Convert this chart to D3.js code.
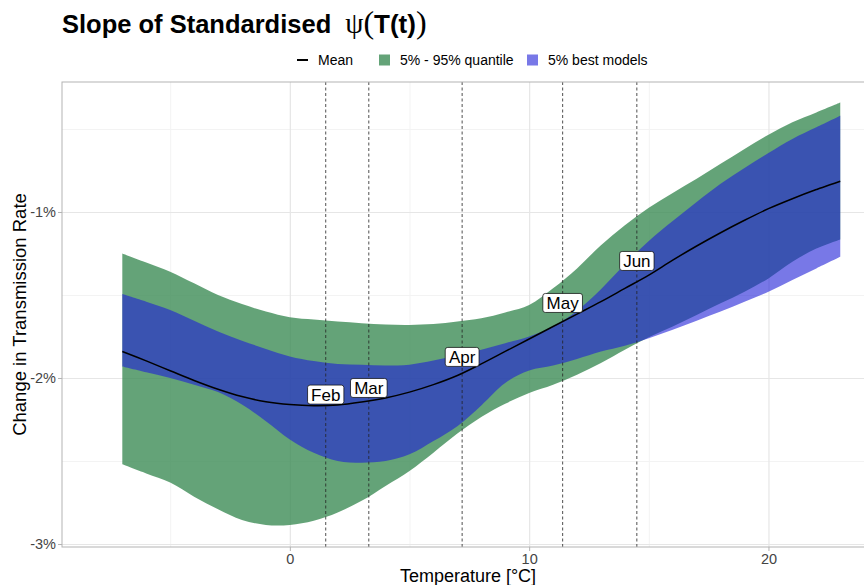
<!DOCTYPE html>
<html>
<head>
<meta charset="utf-8">
<script src="https://cdn.jsdelivr.net/npm/d3@7"></script>
<style>
  body { margin: 0; background: #fff; }
  text { font-family: "Liberation Sans", Arial, sans-serif; }
</style>
</head>
<body>
<div id="chart"></div>
<script>
// values (percent per unit)
var temps    = [-7,-6,-5,-4,-3,-2,-1,0,1,2,3,4,5,6,7,8,9,10,11,12,13,14,15,16,17,18,19,20,21,22,23];
var meanVals = [-1.84,-1.897,-1.956,-2.015,-2.068,-2.112,-2.143,-2.16,-2.167,-2.163,-2.145,-2.12,-2.085,-2.04,-1.985,-1.915,-1.84,-1.765,-1.69,-1.615,-1.54,-1.46,-1.38,-1.29,-1.205,-1.125,-1.05,-0.98,-0.92,-0.865,-0.815];
var q95      = [-1.25,-1.305,-1.36,-1.43,-1.50,-1.555,-1.60,-1.634,-1.648,-1.66,-1.67,-1.678,-1.68,-1.675,-1.66,-1.64,-1.605,-1.56,-1.46,-1.34,-1.20,-1.08,-0.975,-0.885,-0.80,-0.71,-0.62,-0.535,-0.46,-0.40,-0.34];
var q05      = [-2.52,-2.575,-2.63,-2.715,-2.79,-2.855,-2.885,-2.885,-2.86,-2.81,-2.74,-2.65,-2.56,-2.45,-2.335,-2.235,-2.155,-2.09,-2.04,-1.98,-1.91,-1.83,-1.755,-1.69,-1.62,-1.55,-1.48,-1.40,-1.30,-1.22,-1.165];
var bestHi   = [-1.494,-1.54,-1.59,-1.655,-1.72,-1.775,-1.825,-1.87,-1.898,-1.915,-1.92,-1.925,-1.92,-1.895,-1.865,-1.83,-1.79,-1.75,-1.69,-1.595,-1.465,-1.315,-1.175,-1.055,-0.94,-0.83,-0.735,-0.645,-0.56,-0.49,-0.42];
var bestLo   = [-1.93,-1.965,-2.00,-2.04,-2.085,-2.16,-2.26,-2.37,-2.45,-2.50,-2.51,-2.50,-2.46,-2.38,-2.29,-2.165,-2.03,-1.955,-1.925,-1.885,-1.84,-1.805,-1.76,-1.71,-1.655,-1.60,-1.54,-1.48,-1.41,-1.34,-1.27];

var months    = ["Feb", "Mar", "Apr", "May", "Jun"];
var monthTemp = [1.5, 3.3, 7.2, 11.4, 14.5];
var labelVals = [-2.10, -2.06, -1.873, -1.548, -1.295];

var xTicks = [0, 10, 20], xMinor = [-5, 5, 15];
var yTicks = [-3, -2, -1], yMinor = [-2.5, -1.5, -0.5];

var W = 864, H = 585;
var margin = { top: 82, right: -10, bottom: 38, left: 62 },
    width = W - margin.left - margin.right,
    height = H - margin.top - margin.bottom;

var svg = d3.select("#chart").append("svg")
    .attr("width", W).attr("height", H);

var g = svg.append("g")
    .attr("transform", "translate(" + margin.left + "," + margin.top + ")");

var x = d3.scaleLinear().domain([-9.52, 24.41]).range([0, width]);
var y = d3.scaleLinear().domain([-3.018, -0.217]).range([height, 0]);

// grid
g.append("g").attr("class", "grid-minor")
    .attr("transform", "translate(0," + height + ")")
    .call(d3.axisBottom(x).tickValues(xMinor).tickSize(-height).tickFormat(""));
g.append("g").attr("class", "grid-minor")
    .call(d3.axisLeft(y).tickValues(yMinor).tickSize(-width).tickFormat(""));
g.append("g").attr("class", "grid-major")
    .attr("transform", "translate(0," + height + ")")
    .call(d3.axisBottom(x).tickValues(xTicks).tickSize(-height).tickFormat(""));
g.append("g").attr("class", "grid-major")
    .call(d3.axisLeft(y).tickValues(yTicks).tickSize(-width).tickFormat(""));
g.selectAll(".grid-minor line").attr("stroke", "#f3f3f3").attr("stroke-width", 1);
g.selectAll(".grid-major line").attr("stroke", "#e6e6e6").attr("stroke-width", 1.2);
g.selectAll(".grid-minor .domain, .grid-major .domain").remove();

var data = temps.map(function(t, i) {
    return { t: t, mean: meanVals[i], lo: q05[i], hi: q95[i], blo: bestLo[i], bhi: bestHi[i] };
});

var curve = d3.curveCatmullRom.alpha(0.5);

// 5% - 95% quantile band
g.append("path").datum(data)
    .attr("fill", "rgb(61,140,86)").attr("fill-opacity", 0.8)
    .attr("d", d3.area().curve(curve)
        .x(function(d) { return x(d.t); })
        .y0(function(d) { return y(d.lo); })
        .y1(function(d) { return y(d.hi); }));

// 5% best models band
g.append("path").datum(data)
    .attr("fill", "rgb(30,30,215)").attr("fill-opacity", 0.6)
    .attr("d", d3.area().curve(curve)
        .x(function(d) { return x(d.t); })
        .y0(function(d) { return y(d.blo); })
        .y1(function(d) { return y(d.bhi); }));

// month lines
g.selectAll(".mline").data(monthTemp).enter().append("line")
    .attr("class", "mline")
    .attr("x1", function(d) { return x(d); }).attr("x2", function(d) { return x(d); })
    .attr("y1", 0).attr("y2", height)
    .attr("stroke", "#222").attr("stroke-width", 0.8)
    .attr("stroke-dasharray", "3,2.5");

// mean line
g.append("path").datum(data)
    .attr("fill", "none").attr("stroke", "#000").attr("stroke-width", 1.5)
    .attr("d", d3.line().curve(curve)
        .x(function(d) { return x(d.t); })
        .y(function(d) { return y(d.mean); }));

// month labels
months.forEach(function(m, i) {
    var lg = g.append("g")
        .attr("transform", "translate(" + x(monthTemp[i]) + "," + y(labelVals[i]) + ")");
    var rect = lg.append("rect");
    var txt = lg.append("text")
        .attr("text-anchor", "middle").attr("dy", "0.36em")
        .style("font-size", "17px").attr("fill", "#000")
        .text(m);
    var bb = txt.node().getBBox();
    rect.attr("x", -bb.width / 2 - 3.5).attr("y", -9.5)
        .attr("width", bb.width + 7).attr("height", 19)
        .attr("rx", 2.5).attr("ry", 2.5)
        .attr("fill", "#fff").attr("stroke", "#000").attr("stroke-width", 0.7);
});

// panel border
g.append("rect")
    .attr("x", 0).attr("y", 0).attr("width", width).attr("height", height)
    .attr("fill", "none").attr("stroke", "#b3b3b3").attr("stroke-width", 1);

// axes
var yAxis = g.append("g")
    .call(d3.axisLeft(y).tickValues(yTicks).tickSize(4).tickPadding(2)
        .tickFormat(function(d) { return d + "%"; }));
var xAxis = g.append("g")
    .attr("transform", "translate(0," + height + ")")
    .call(d3.axisBottom(x).tickValues(xTicks).tickSize(4).tickPadding(3));
[yAxis, xAxis].forEach(function(a) {
    a.select(".domain").remove();
    a.selectAll(".tick line").attr("stroke", "#b3b3b3");
    a.selectAll(".tick text").attr("fill", "#444")
        .style("font-size", "14.5px").style("font-family", "'Liberation Sans', Arial, sans-serif");
});

// axis titles
svg.append("text")
    .attr("transform", "translate(26," + (margin.top + height / 2) + ") rotate(-90)")
    .attr("text-anchor", "middle").style("font-size", "18.5px").attr("fill", "#000")
    .text("Change in Transmission Rate");
svg.append("text")
    .attr("x", 468).attr("y", 582)
    .attr("text-anchor", "middle").style("font-size", "18px").attr("fill", "#000")
    .text("Temperature [°C]");

// title
var title = svg.append("text").attr("x", 62).attr("y", 33).attr("fill", "#000");
title.append("tspan").style("font-weight", "bold").style("font-size", "25.5px")
    .text("Slope of Standardised");
title.append("tspan").attr("dx", 14)
    .style("font-family", "'Liberation Serif', 'DejaVu Serif', serif").style("font-size", "29px")
    .text("ψ");
title.append("tspan")
    .style("font-family", "'Liberation Serif', 'DejaVu Serif', serif").style("font-size", "32px")
    .text("(");
title.append("tspan").style("font-weight", "bold").style("font-size", "26px")
    .text("T(t)");
title.append("tspan")
    .style("font-family", "'Liberation Serif', 'DejaVu Serif', serif").style("font-size", "32px")
    .text(")");

// legend
var leg = svg.append("g").attr("transform", "translate(0,60)");
leg.append("line").attr("x1", 297).attr("x2", 308).attr("y1", 0).attr("y2", 0)
    .attr("stroke", "#000").attr("stroke-width", 2);
leg.append("text").attr("x", 318).attr("y", 5).style("font-size", "14px").text("Mean");
leg.append("rect").attr("x", 379).attr("y", -5.5).attr("width", 11).attr("height", 11)
    .attr("fill", "rgb(61,140,86)").attr("fill-opacity", 0.8);
leg.append("text").attr("x", 400).attr("y", 5).style("font-size", "14px").text("5% - 95% quantile");
leg.append("rect").attr("x", 527).attr("y", -5.5).attr("width", 11).attr("height", 11)
    .attr("fill", "rgb(30,30,215)").attr("fill-opacity", 0.6);
leg.append("text").attr("x", 548).attr("y", 5).style("font-size", "14px").text("5% best models");
</script>
</body>
</html>
